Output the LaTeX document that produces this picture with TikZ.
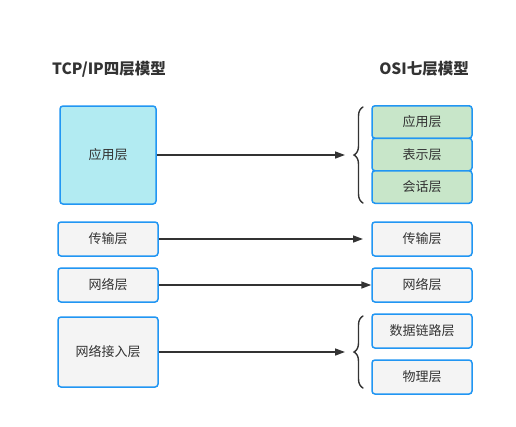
\documentclass[tikz,border=0pt]{standalone}
\usepackage{fontspec}
\setmainfont{Noto Sans CJK SC}
\usetikzlibrary{arrows.meta,decorations.pathreplacing}
\definecolor{bblue}{HTML}{2196F3}
\definecolor{cyanfill}{HTML}{B2EBF2}
\definecolor{greenfill}{HTML}{C8E6C9}
\definecolor{grayfill}{HTML}{F4F4F4}
\definecolor{txt}{HTML}{333333}
\tikzset{
  layer/.style={draw=bblue, line width=1.5pt, rounded corners=3pt, fill=grayfill, text=txt, font=\fontsize{13}{15}\selectfont, minimum width=97pt, minimum height=33pt, inner sep=0pt},
  title/.style={text=txt, font=\fontsize{15.5}{17}\selectfont\bfseries},
  conn/.style={draw=txt, line width=1.5pt, -{Triangle[length=10pt,width=7pt]}},
  brc/.style={draw=txt, line width=1.4pt, line cap=round, decorate, decoration={brace, amplitude=9pt, aspect=0.5}},
}
\begin{document}
\begin{tikzpicture}[x=1pt,y=-1pt]
\useasboundingbox[fill=white] (0,0) rectangle (516,426);
\node[title] (tl) at (109,69) {TCP/IP四层模型};
\node[title] (tr) at (424,69) {OSI七层模型};
% left
\node[layer, fill=cyanfill, minimum width=96pt, minimum height=98pt] (la) at (108,155) {应用层};
\node[layer, minimum width=100pt, minimum height=34pt] (lt) at (108,239) {传输层};
\node[layer, minimum width=100pt, minimum height=34pt] (ln) at (108,285) {网络层};
\node[layer, minimum width=100pt, minimum height=70pt] (lh) at (108,352) {网络接入层};
% right
\node[layer, fill=greenfill, minimum width=100pt, minimum height=32.5pt] (ra) at (422,122) {应用层};
\node[layer, fill=greenfill, minimum width=100pt, minimum height=32.5pt] (rp) at (422,154.5) {表示层};
\node[layer, fill=greenfill, minimum width=100pt, minimum height=32.5pt] (rs) at (422,187) {会话层};
\node[layer, minimum width=100pt, minimum height=34pt] (rt) at (422,239) {传输层};
\node[layer, minimum width=100pt, minimum height=34pt] (rn) at (422,285) {网络层};
\node[layer, minimum width=100pt, minimum height=34pt] (rd) at (422,331) {数据链路层};
\node[layer, minimum width=100pt, minimum height=34pt] (rph) at (422,377) {物理层};
% braces
\coordinate (b1t) at (363,107);
\coordinate (b1b) at (363,203);
\coordinate (b2t) at (363,316);
\coordinate (b2b) at (363,388);
\draw[brc] (b1b) -- (b1t);
\draw[brc] (b2b) -- (b2t);
\coordinate (tip1) at (345,155);
\coordinate (tip2) at (345,352);
\coordinate (tip3) at (363,239);
% arrows
\draw[conn] (la.east) -- (tip1);
\draw[conn] (lt.east) -- (tip3);
\draw[conn] (ln.east) -- (rn.west);
\draw[conn] (lh.east) -- (tip2);
\end{tikzpicture}
\end{document}
